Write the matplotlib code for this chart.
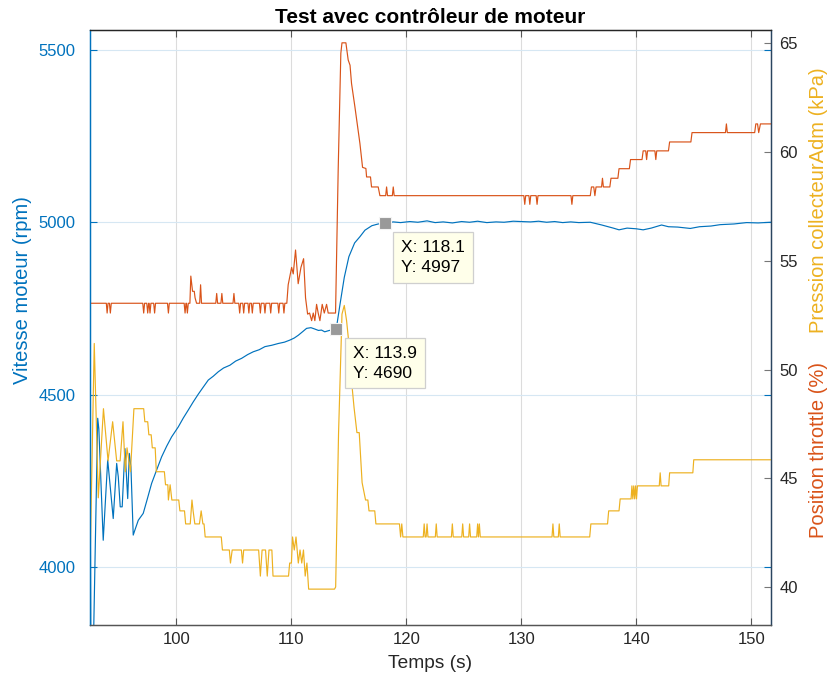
import matplotlib
matplotlib.use('Agg')
import matplotlib.pyplot as plt

plt.rcParams['font.family'] = ['Liberation Sans', 'DejaVu Sans']

# régime moteur (rpm) -- axe gauche
vitesse = [
    (92.48, 4440), (92.55, 3760), (92.77, 3760), (93.15, 4431), (93.25, 4400),
    (93.63, 4077), (94.02, 4310), (94.5, 4140), (94.8, 4300), (94.94, 4261),
    (95.11, 4174), (95.28, 4174), (95.52, 4343), (95.76, 4198), (95.9, 4329),
    (96.04, 4290), (96.24, 4092), (96.38, 4106), (96.68, 4135), (97.11, 4155),
    (97.45, 4195), (97.84, 4242), (98.3, 4283), (98.71, 4319), (99.15, 4350),
    (99.58, 4377), (100.16, 4406), (100.6, 4432), (101.03, 4455), (101.45, 4478),
    (101.9, 4501), (102.3, 4520), (102.77, 4542), (103.2, 4553), (103.64, 4566),
    (104.1, 4577), (104.65, 4585), (105.15, 4597), (105.67, 4605), (106.2, 4616),
    (106.68, 4624), (107.2, 4630), (107.7, 4639), (108.3, 4643), (108.85, 4648),
    (109.4, 4652), (109.87, 4658), (110.25, 4664), (110.6, 4672), (111.0, 4683),
    (111.32, 4692), (111.7, 4694), (112.04, 4690), (112.35, 4686), (112.62, 4687),
    (112.9, 4682), (113.2, 4685), (113.55, 4688), (113.9, 4690), (114.22, 4760),
    (114.6, 4840), (115.0, 4900), (115.5, 4940), (115.96, 4958), (116.4, 4977),
    (117.0, 4990), (117.55, 4995), (118.1, 4997), (118.86, 5001), (119.5, 4999),
    (120.3, 5002), (121.0, 5000), (121.8, 5004), (122.5, 4999), (123.2, 5001),
    (124.0, 4998), (124.8, 5002), (125.5, 5000), (126.2, 5003), (127.0, 4999),
    (127.8, 5001), (128.5, 5000), (129.3, 5003), (130.0, 5002), (130.8, 5001),
    (131.5, 5003), (132.2, 5000), (132.9, 5002), (133.6, 4999), (134.3, 5001),
    (135.0, 4999), (136.0, 5000), (137.0, 4992), (138.0, 4983), (138.5, 4978),
    (139.2, 4983), (140.0, 4981), (140.6, 4978), (141.3, 4983), (142.2, 4992),
    (142.8, 4987), (143.6, 4986), (144.7, 4982), (145.5, 4987), (146.5, 4989),
    (147.3, 4993), (148.5, 4995), (149.6, 4999), (150.6, 4998), (151.72, 5000),
]

# pression collecteur d'admission (kPa) -- axe droit
pression = [
    (92.48, 40.9), (92.85, 51.2), (93.2, 44.1), (93.65, 48.2), (94.05, 45.8),
    (94.45, 47.6), (94.8, 45.8), (95.1, 45.8), (95.35, 47.6), (95.55, 45.3),
    (95.7, 46.4), (96.0, 45.3), (96.3, 48.2), (97.15, 48.2), (97.25, 47.6),
    (97.5, 47.6), (97.6, 47.0), (97.8, 47.0), (97.9, 46.4), (98.15, 46.4),
    (98.25, 45.3), (98.95, 45.3), (99.05, 44.7), (99.25, 44.7), (99.3, 44.0),
    (99.45, 44.7), (99.6, 44.0), (100.2, 44.0), (100.3, 43.5), (100.7, 43.5),
    (100.8, 42.9), (101.2, 42.9), (101.35, 44.0), (101.45, 43.5), (101.6, 42.9),
    (102.0, 42.9), (102.15, 43.5), (102.3, 42.9), (102.4, 42.9), (102.5, 42.3),
    (103.9, 42.3), (104.0, 41.7), (104.6, 41.7), (104.7, 41.1), (104.85, 41.7),
    (105.65, 41.7), (105.75, 41.1), (105.85, 41.7), (107.15, 41.7), (107.3, 40.5),
    (107.45, 41.7), (107.75, 41.7), (107.9, 40.5), (108.05, 41.7), (108.3, 41.7),
    (108.4, 40.5), (109.75, 40.5), (109.85, 41.1), (110.0, 41.1), (110.1, 42.3),
    (110.25, 41.7), (110.4, 42.3), (110.6, 41.1), (110.75, 41.7), (110.9, 41.1),
    (111.05, 41.7), (111.2, 40.5), (111.35, 41.1), (111.5, 39.9), (113.75, 39.9),
    (113.85, 40.0), (114.1, 47.05), (114.4, 52.55), (114.6, 52.95), (114.8, 52.25),
    (115.0, 51.2), (115.2, 49.65), (115.45, 48.25), (115.7, 47.1), (115.9, 47.1),
    (116.15, 44.8), (116.45, 44.0), (116.65, 44.0), (116.75, 43.5), (117.25, 43.5),
    (117.35, 42.9), (119.4, 42.9), (119.5, 42.3), (119.6, 42.9), (119.7, 42.3),
    (121.47, 42.3), (121.55, 42.9), (121.63, 42.3), (121.72, 42.3), (121.8, 42.9),
    (121.88, 42.3), (122.52, 42.3), (122.6, 42.9), (122.68, 42.3), (123.92, 42.3),
    (124.0, 42.9), (124.08, 42.3), (124.82, 42.3), (124.9, 42.9), (124.98, 42.3),
    (125.42, 42.3), (125.5, 42.9), (125.58, 42.3), (126.12, 42.3), (126.2, 42.9),
    (126.27, 42.3), (126.35, 42.9), (126.43, 42.3), (132.67, 42.3), (132.75, 42.9),
    (132.83, 42.3), (133.22, 42.3), (133.3, 42.9), (133.38, 42.3), (135.95, 42.3),
    (136.05, 42.9), (137.5, 42.9), (137.6, 43.5), (138.5, 43.5), (138.6, 44.05),
    (139.55, 44.05), (139.62, 44.65), (139.7, 44.05), (139.78, 44.65), (139.86, 44.05),
    (139.94, 44.65), (140.02, 44.05), (140.1, 44.65), (142.0, 44.65), (142.08, 45.25),
    (142.16, 44.65), (142.82, 44.65), (142.9, 45.25), (144.92, 45.25), (145.0, 45.85),
    (151.72, 45.85),
]

# position du papillon (%) -- axe droit
throttle = [
    (92.48, 53.05), (93.9, 53.05), (93.97, 52.6), (94.05, 53.05), (94.17, 53.05),
    (94.25, 52.6), (94.33, 53.05), (97.07, 53.05), (97.15, 52.6), (97.23, 53.05),
    (97.42, 53.05), (97.5, 52.6), (97.58, 53.05), (97.62, 53.05), (97.7, 52.6),
    (97.78, 53.05), (98.02, 53.05), (98.1, 52.6), (98.18, 53.05), (99.22, 53.05),
    (99.3, 52.6), (99.38, 53.05), (100.67, 53.05), (100.75, 52.6), (100.83, 53.05),
    (100.87, 53.05), (100.95, 52.6), (101.03, 53.05), (101.17, 53.05), (101.25, 54.3),
    (101.4, 53.6), (101.55, 53.6), (101.62, 53.3), (101.75, 53.05), (102.02, 53.05),
    (102.1, 53.9), (102.18, 53.05), (103.42, 53.05), (103.5, 53.5), (103.58, 53.05),
    (103.87, 53.05), (103.95, 53.5), (104.03, 53.05), (104.92, 53.05), (105.0, 53.5),
    (105.08, 53.05), (105.42, 53.05), (105.5, 52.6), (105.58, 53.05), (105.77, 53.05),
    (105.85, 52.6), (105.93, 53.05), (106.22, 53.05), (106.3, 52.6), (106.38, 53.05),
    (106.52, 53.05), (106.6, 52.6), (106.68, 53.05), (107.22, 53.05), (107.3, 52.6),
    (107.38, 53.05), (107.62, 53.05), (107.7, 52.6), (107.78, 53.05), (108.12, 53.05),
    (108.2, 52.6), (108.28, 53.05), (108.82, 53.05), (108.9, 52.6), (108.98, 53.05),
    (109.27, 53.05), (109.35, 52.6), (109.43, 53.05), (109.6, 53.05), (109.72, 53.9),
    (110.02, 54.7), (110.16, 54.4), (110.36, 55.5), (110.59, 53.95), (110.83, 54.7),
    (111.06, 55.1), (111.23, 53.3), (111.41, 52.55), (111.58, 52.6), (111.76, 52.25),
    (111.9, 52.6), (112.04, 52.25), (112.19, 53.0), (112.33, 52.6), (112.48, 52.25),
    (112.68, 53.0), (112.86, 52.6), (113.06, 53.0), (113.2, 52.6), (113.84, 52.6),
    (114.07, 59.2), (114.3, 64.55), (114.4, 65.03), (114.74, 65.03), (114.94, 64.24),
    (115.1, 64.0), (115.23, 63.16), (115.52, 62.1), (115.81, 61.0), (115.96, 60.4),
    (116.19, 59.3), (116.48, 59.25), (116.54, 58.86), (116.88, 58.86), (116.97, 58.4),
    (117.55, 58.4), (117.7, 58.0), (118.2, 58.0), (118.28, 58.4), (118.36, 58.0),
    (118.78, 58.0), (118.86, 58.4), (118.94, 58.0), (130.22, 58.0), (130.3, 57.6),
    (130.38, 58.0), (130.66, 58.0), (130.74, 57.6), (130.82, 58.0), (131.29, 58.0),
    (131.37, 57.6), (131.45, 58.0), (134.32, 58.0), (134.4, 57.6), (134.48, 58.0),
    (136.0, 58.0), (136.1, 58.4), (136.3, 58.4), (136.4, 58.0), (136.5, 58.4),
    (136.98, 58.4), (137.06, 58.8), (137.14, 58.4), (137.7, 58.4), (137.8, 58.8),
    (138.4, 58.8), (138.5, 59.24), (139.4, 59.24), (139.5, 59.66), (140.5, 59.66),
    (140.6, 60.06), (140.82, 60.06), (140.9, 59.66), (140.98, 60.06), (141.62, 60.06),
    (141.7, 59.66), (141.78, 60.06), (142.8, 60.06), (142.9, 60.47), (144.75, 60.47),
    (144.85, 60.9), (147.76, 60.9), (147.84, 61.3), (147.92, 60.9), (150.3, 60.9),
    (150.4, 61.3), (150.55, 61.3), (150.65, 60.9), (150.8, 61.3), (151.72, 61.3),
]

# data tips posés sur la courbe de vitesse
datatips = [(113.9, 4690), (118.1, 4997)]

BLUE = '#0072BD'
ORANGE = '#D95319'
YELLOW = '#EDB120'
DARK = '#262626'

fig = plt.figure(figsize=(8.31, 6.81), dpi=100)
ax = fig.add_axes([90 / 831, 56 / 681, 681 / 831, 595 / 681])
ax2 = ax.twinx()

vt, vv = zip(*vitesse)
pt, pv = zip(*pression)
tt, tv = zip(*throttle)

ax.plot(vt, vv, color=BLUE, lw=0.85)
ax2.plot(tt, tv, color=ORANGE, lw=0.85)
ax2.plot(pt, pv, color=YELLOW, lw=0.85)

ax.set_xlim(92.48, 151.72)
ax.set_ylim(3831, 5558)
ax2.set_ylim(38.25, 65.62)
ax.set_xticks([100, 110, 120, 130, 140, 150])
ax.set_yticks([4000, 4500, 5000, 5500])
ax2.set_yticks([40, 45, 50, 55, 60, 65])

# grille : verticale grise, horizontale bleutée
ax.set_axisbelow(True)
ax.xaxis.grid(True, color='#dcdcdc', lw=0.8)
ax.yaxis.grid(True, color='#d6e7f3', lw=0.8)

ax.tick_params(axis='x', direction='in', top=True, length=5, color='#555555',
               labelsize=12, labelcolor=DARK, pad=5)
ax.tick_params(axis='y', direction='in', left=True, right=True, length=5,
               color=BLUE, labelsize=12, labelcolor=BLUE, pad=10.5)
ax2.tick_params(axis='y', direction='in', right=True, length=5, color='#777777',
                labelsize=12, labelcolor=DARK, pad=6)

for a in (ax, ax2):
    a.spines['left'].set_color(BLUE)
    a.spines['top'].set_color(DARK)
    a.spines['bottom'].set_color('#555555')
    a.spines['right'].set_color('#2a4560')
    for s in a.spines.values():
        s.set_linewidth(0.9)

ax.set_title('Test avec contrôleur de moteur', fontsize=15, fontweight='bold',
             color='black', pad=5)
ax.set_xlabel('Temps (s)', fontsize=13.8, color=DARK, labelpad=6)

fig.text(23 / 831, 1 - 290 / 681, 'Vitesse moteur (rpm)', rotation=90,
         ha='center', va='center', fontsize=14.5, color=BLUE)
fig.text(818 / 831, 1 - 200 / 681, 'Pression collecteurAdm (kPa)', rotation=90,
         ha='center', va='center', fontsize=14.5, color=YELLOW)
fig.text(818 / 831, 1 - 450 / 681, 'Position throttle (%)', rotation=90,
         ha='center', va='center', fontsize=14.5, color=ORANGE)

for x, y in datatips:
    ax2.plot([x], [y], marker='s', ms=8.5, color='#999999', mec='#f4f4f4',
             mew=0.8, transform=ax.transData, clip_on=False, zorder=5)
    ax2.annotate('X: %.1f\nY: %d' % (x, y), xy=(x, y), xycoords=ax.transData,
                 xytext=(12, -12), textcoords='offset points', ha='left', va='top',
                 fontsize=12.5, linespacing=1.4, color='black', zorder=6,
                 bbox=dict(boxstyle='square,pad=0.45', fc='#FFFFEA', ec='#cfcfcf', lw=0.9))

fig.savefig('out.png', dpi=100)
